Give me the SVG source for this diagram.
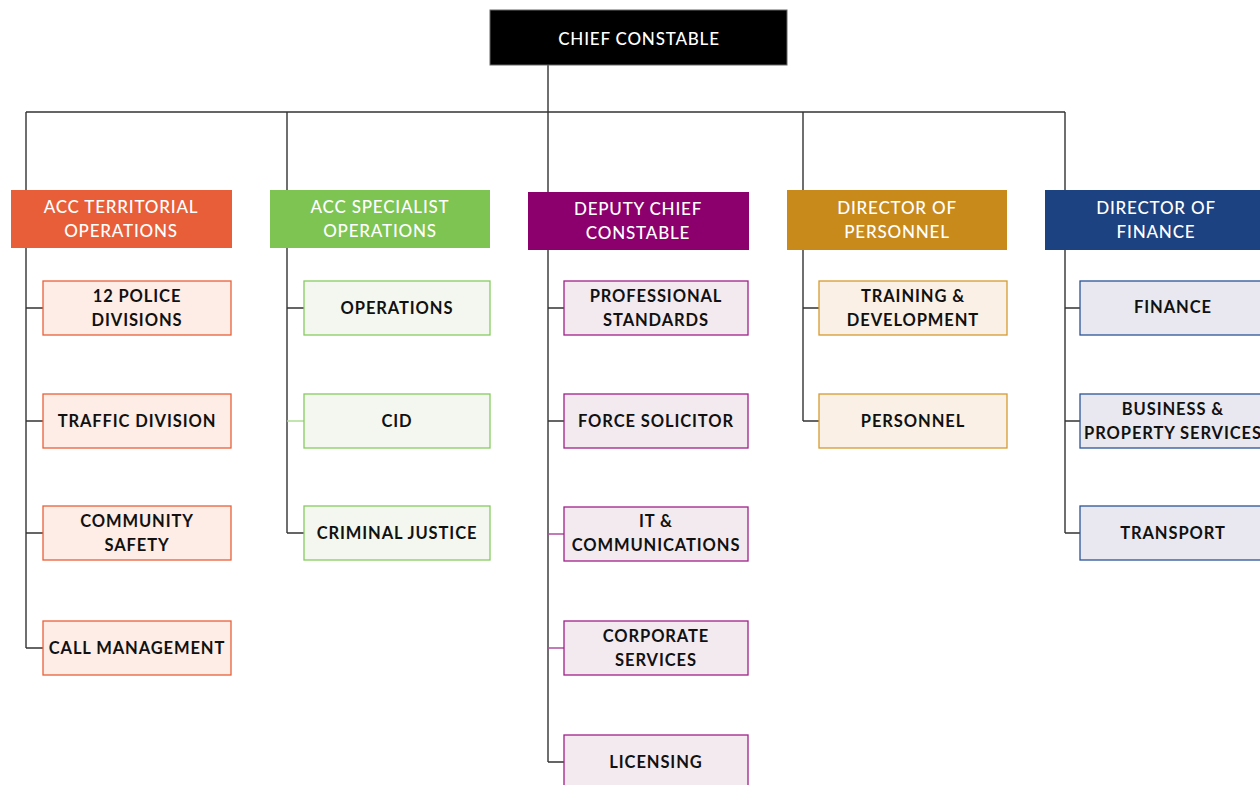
<svg xmlns="http://www.w3.org/2000/svg" width="1260" height="785" viewBox="0 0 1260 785">
<style>
text{font-family:Lato,"Open Sans","Liberation Sans",sans-serif;text-anchor:middle;dominant-baseline:central}
.hd{fill:#fff;font-size:17px;font-weight:500;letter-spacing:0.8px}
.ch{fill:#111;font-size:16.5px;font-weight:700;letter-spacing:0.9px}
.ln{fill:none;stroke:#333;stroke-width:1.4}
.t1{fill:#FDEDE6;stroke:#E8603A;stroke-width:1.3}
.t2{fill:#F4F7EF;stroke:#86CC5F;stroke-width:1.3}
.t3{fill:#F3EAF0;stroke:#A0208A;stroke-width:1.3}
.t4{fill:#FAF0E6;stroke:#D69A30;stroke-width:1.3}
.t5{fill:#E9E8F0;stroke:#2C5499;stroke-width:1.3}
</style>
<rect width="1260" height="785" fill="#fff"/>
<g id="connectors">
<path class="ln" d="M548 65V192M26 112H1065M26 112V190M287 112V190M803 112V190M1065 112V190"/>
<path class="ln" d="M26 248V648M26 308H43M26 421H43M26 533H43M26 648H43"/>
<path class="ln" d="M287 248V533M287 308H304M287 533H304"/>
<path d="M287 421H304" fill="none" stroke="#A8D98A" stroke-width="1.4"/>
<path class="ln" d="M548 250V762M548 308H564M548 421H564M548 762H564"/>
<path d="M548 534H564M548 648H564" fill="none" stroke="#B050A0" stroke-width="1.4"/>
<path class="ln" d="M803 250V421M803 308H819M803 421H819"/>
<path class="ln" d="M1065 250V533M1065 308H1080M1065 421H1080M1065 533H1080"/>
</g>
<g id="chief"><rect x="490" y="10" width="297" height="55" fill="#000" stroke="#666" stroke-width="1"/><text class="hd" x="639" y="38">CHIEF CONSTABLE</text></g>
<g id="acc-territorial"><rect x="11" y="190" width="221" height="58" fill="#E85E38"/><text class="hd" x="121" y="206">ACC TERRITORIAL</text><text class="hd" x="121" y="230">OPERATIONS</text></g>
<g id="acc-specialist"><rect x="270" y="190" width="220" height="58" fill="#7DC452"/><text class="hd" x="380" y="206">ACC SPECIALIST</text><text class="hd" x="380" y="230">OPERATIONS</text></g>
<g id="deputy"><rect x="528" y="192" width="221" height="58" fill="#8C006E"/><text class="hd" x="638" y="208">DEPUTY CHIEF</text><text class="hd" x="638" y="232">CONSTABLE</text></g>
<g id="dir-personnel"><rect x="787" y="190" width="220" height="60" fill="#C98A1C"/><text class="hd" x="897" y="207">DIRECTOR OF</text><text class="hd" x="897" y="231">PERSONNEL</text></g>
<g id="dir-finance"><rect x="1045" y="190" width="221" height="60" fill="#1C4281"/><text class="hd" x="1156" y="207">DIRECTOR OF</text><text class="hd" x="1156" y="231">FINANCE</text></g>

<g id="police-divisions"><rect class="t1" x="43" y="281" width="188" height="54"/><text class="ch" x="137" y="296">12 POLICE</text><text class="ch" x="137" y="320">DIVISIONS</text></g>
<g id="traffic"><rect class="t1" x="43" y="394" width="188" height="54"/><text class="ch" x="137" y="421">TRAFFIC DIVISION</text></g>
<g id="community"><rect class="t1" x="43" y="506" width="188" height="54"/><text class="ch" x="137" y="521">COMMUNITY</text><text class="ch" x="137" y="545">SAFETY</text></g>
<g id="call"><rect class="t1" x="43" y="621" width="188" height="54"/><text class="ch" x="137" y="648">CALL MANAGEMENT</text></g>

<g id="operations"><rect class="t2" x="304" y="281" width="186" height="54"/><text class="ch" x="397" y="308">OPERATIONS</text></g>
<g id="cid"><rect class="t2" x="304" y="394" width="186" height="54"/><text class="ch" x="397" y="421">CID</text></g>
<g id="criminal"><rect class="t2" x="304" y="506" width="186" height="54"/><text class="ch" x="397" y="533">CRIMINAL JUSTICE</text></g>

<g id="professional"><rect class="t3" x="564" y="281" width="184" height="54"/><text class="ch" x="656" y="296">PROFESSIONAL</text><text class="ch" x="656" y="320">STANDARDS</text></g>
<g id="solicitor"><rect class="t3" x="564" y="394" width="184" height="54"/><text class="ch" x="656" y="421">FORCE SOLICITOR</text></g>
<g id="it"><rect class="t3" x="564" y="507" width="184" height="54"/><text class="ch" x="656" y="521">IT &amp;</text><text class="ch" x="656" y="545">COMMUNICATIONS</text></g>
<g id="corporate"><rect class="t3" x="564" y="621" width="184" height="54"/><text class="ch" x="656" y="636">CORPORATE</text><text class="ch" x="656" y="660">SERVICES</text></g>
<g id="licensing"><rect class="t3" x="564" y="735" width="184" height="60"/><text class="ch" x="656" y="762">LICENSING</text></g>

<g id="training"><rect class="t4" x="819" y="281" width="188" height="54"/><text class="ch" x="913" y="296">TRAINING &amp;</text><text class="ch" x="913" y="320">DEVELOPMENT</text></g>
<g id="personnel"><rect class="t4" x="819" y="394" width="188" height="54"/><text class="ch" x="913" y="421">PERSONNEL</text></g>

<g id="finance"><rect class="t5" x="1080" y="281" width="190" height="54"/><text class="ch" x="1173" y="307">FINANCE</text></g>
<g id="business"><rect class="t5" x="1080" y="394" width="190" height="54"/><text class="ch" x="1173" y="409">BUSINESS &amp;</text><text class="ch" x="1173" y="433">PROPERTY SERVICES</text></g>
<g id="transport"><rect class="t5" x="1080" y="506" width="190" height="54"/><text class="ch" x="1173" y="533">TRANSPORT</text></g>
</svg>
